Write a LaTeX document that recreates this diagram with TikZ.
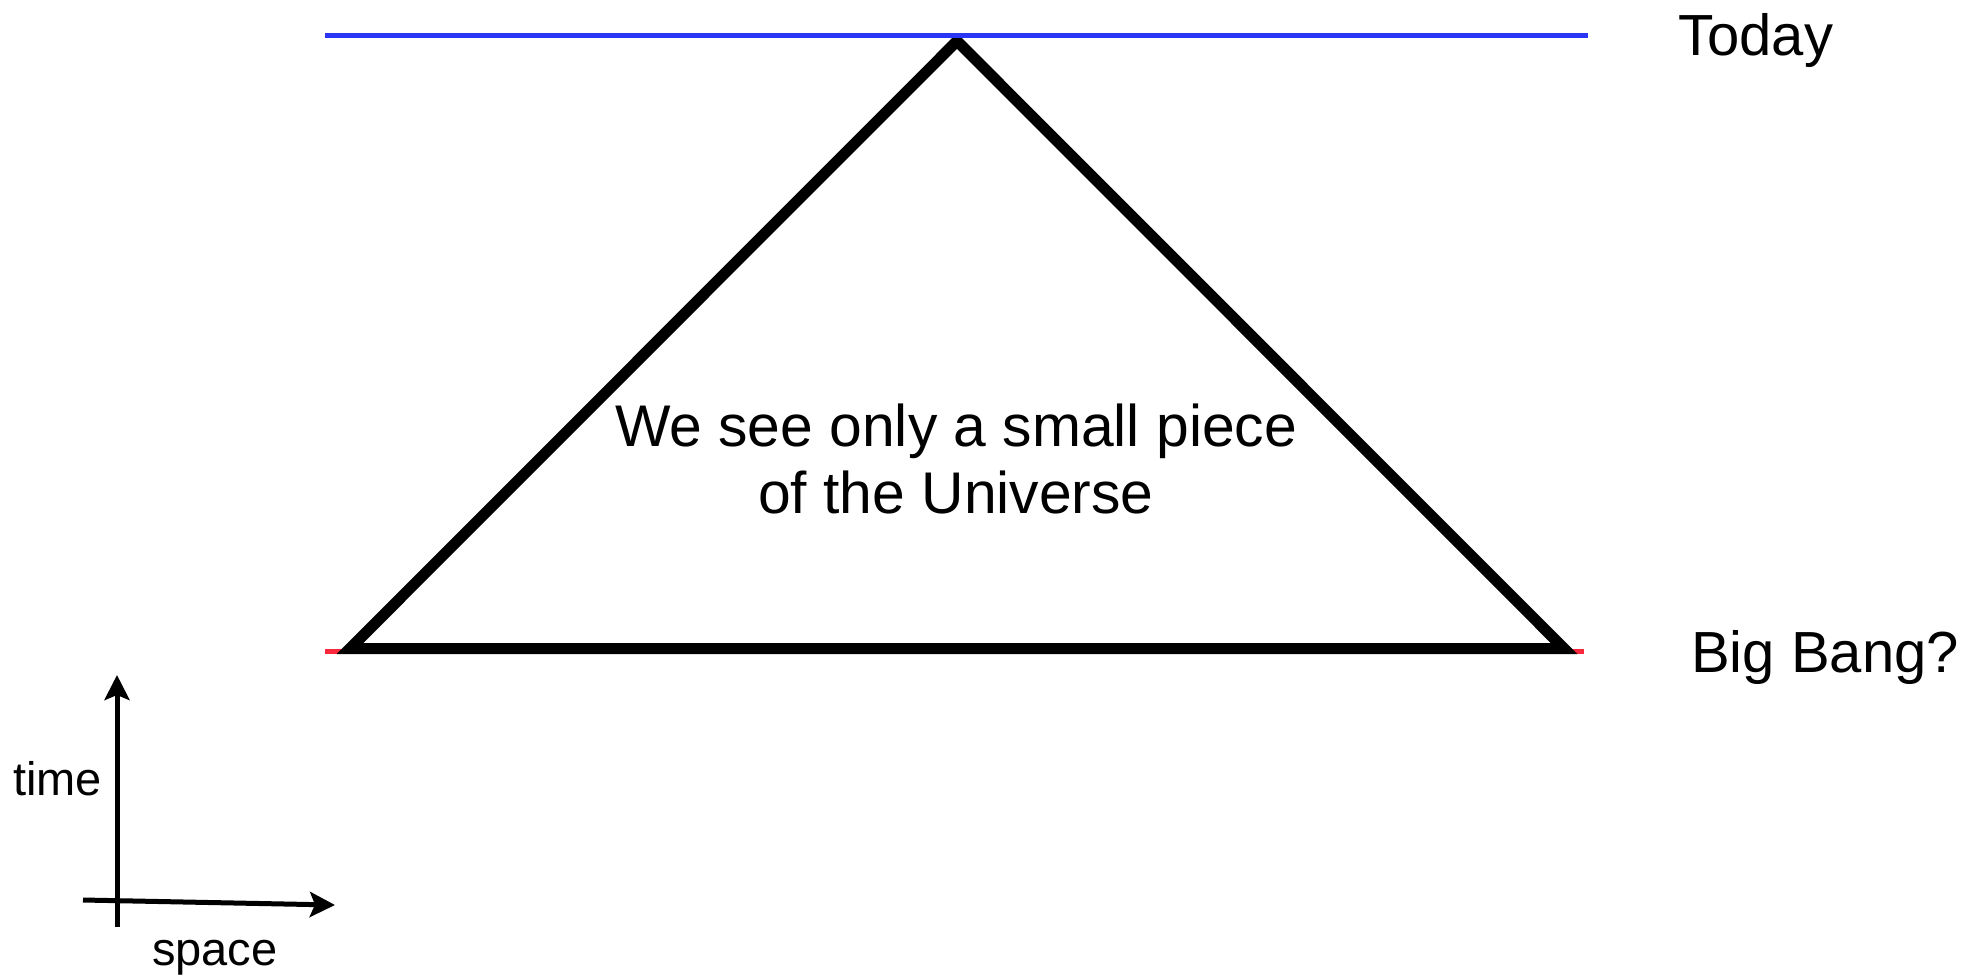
\documentclass[tikz,border=0pt]{standalone}
\usepackage{fontspec}
\setmainfont{Liberation Sans}
\usetikzlibrary{arrows.meta}
\definecolor{todayblue}{RGB}{43,53,245}
\definecolor{bangred}{RGB}{250,40,60}
\tikzset{
  cone/.style={draw=black, line width=11pt, miter limit=10},
  epoch/.style={line width=5pt},
  axis/.style={line width=5pt, -{Stealth[length=25pt,width=25pt,inset=5pt]}},
  biglabel/.style={font=\fontsize{58}{65}\selectfont, inner sep=0pt, anchor=base west},
  bodytext/.style={font=\fontsize{58.8}{66}\selectfont, inner sep=0pt, anchor=base},
  axislabel/.style={font=\fontsize{47}{54}\selectfont, inner sep=0pt},
}
\begin{document}
\begin{tikzpicture}[x=1pt,y=-1pt]
\useasboundingbox (0,0) rectangle (1987,975);
% coordinates
\coordinate (todayL) at (325,35.5);
\coordinate (todayR) at (1588,35.5);
\coordinate (bangL) at (325,651.5);
\coordinate (bangR) at (1584,651.5);
\coordinate (apex) at (957,41);
\coordinate (baseL) at (350,648.5);
\coordinate (baseR) at (1564,648.5);
\coordinate (tStart) at (117,927);
\coordinate (tEnd) at (117,675);
\coordinate (sStart) at (83,900);
\coordinate (sEnd) at (335,905);
% big bang line under the cone
\draw[epoch, bangred] (bangL) -- (bangR);
% light cone
\draw[cone] (apex) -- (baseL) -- (baseR) -- cycle;
% today line on top
\draw[epoch, todayblue] (todayL) -- (todayR);
% labels
\node[biglabel] (today) at (1678,55) {Today};
\node[biglabel] (bang) at (1691,672) {Big Bang?};
\node[bodytext] (line1) at (956,446) {We see only a small piece};
\node[bodytext] (line2) at (956,513) {of the Universe};
% axes
\draw[axis] (tStart) -- (tEnd);
\draw[axis] (sStart) -- (sEnd);
\node[axislabel, anchor=base west] (time) at (13,795) {time};
\node[axislabel, anchor=base west] (space) at (152,965) {space};
\end{tikzpicture}
\end{document}
